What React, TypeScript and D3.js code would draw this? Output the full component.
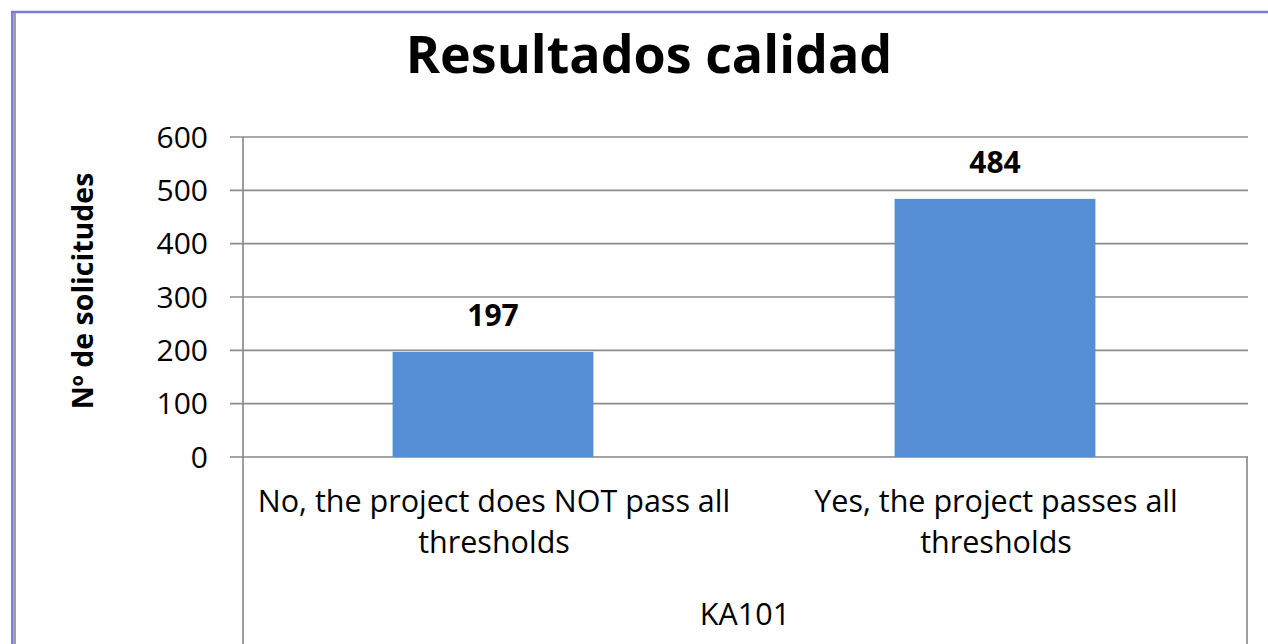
import React from "react";
import * as d3 from "d3";

const title = "Resultados calidad";
const yAxisTitle = "Nº de solicitudes";
const groupLabel = "KA101";
const categories = ["No, the project does NOT pass all thresholds", "Yes, the project passes all thresholds"];
const categoryLines = [["No, the project does NOT pass all", "thresholds"], ["Yes, the project passes all", "thresholds"]];
const values = [197, 484];
const yTicks = [0, 100, 200, 300, 400, 500, 600];

const W = 1268;
const H = 644;
const FONT = "'Open Sans', sans-serif";

export default function App() {
  const plotLeft = 243;
  const plotRight = 1247;
  const plotTop = 137;
  const plotBottom = 457;
  const y = d3.scaleLinear().domain([0, 600]).range([plotBottom, plotTop]);
  const x = d3.scaleBand<string>().domain(categories).range([plotLeft, plotRight]).padding(0);
  const barW = x.bandwidth() * 0.4;
  const grid = "#8c8c8c";
  const axis = "#868686";
  return (
    <svg width={W} height={H} style={{ position: "absolute", left: 0, top: 0, display: "block", background: "#fff" }}>
      {/* outer border */}
      <line x1={11} x2={W} y1={12} y2={12} stroke="#7b7bd9" strokeWidth={2.5} />
      <line x1={12.3} x2={12.3} y1={11} y2={H} stroke="#7b7bd9" strokeWidth={2.5} />
      <line x1={14.7} x2={14.7} y1={13} y2={H} stroke="#9a9a9a" strokeWidth={2.5} />

      <text x={649} y={73} textAnchor="middle" fontFamily={FONT} fontWeight={700} fontSize={52} fill="#000">
        {title}
      </text>

      {/* gridlines */}
      {yTicks.map((t) => (
        <line key={t} x1={230} x2={plotRight + 1} y1={y(t)} y2={y(t)} stroke={t === 0 ? axis : grid} strokeWidth={1.6} />
      ))}
      {yTicks.map((t) => (
        <text key={"l" + t} x={208} y={y(t) + 10.5} textAnchor="end" fontFamily={FONT} fontSize={30} fill="#000">
          {t}
        </text>
      ))}

      {/* bars */}
      {categories.map((c, i) => (
        <rect
          key={c}
          x={(x(c) as number) + x.bandwidth() / 2 - barW / 2 - 1}
          y={y(values[i])}
          width={barW}
          height={y(0) - y(values[i])}
          fill="#558ed5"
        />
      ))}
      {categories.map((c, i) => (
        <text
          key={"v" + c}
          x={(x(c) as number) + x.bandwidth() / 2 - 1}
          y={y(values[i]) - 26}
          textAnchor="middle"
          fontFamily={FONT}
          fontWeight={700}
          fontSize={30}
          fill="#000"
        >
          {values[i]}
        </text>
      ))}

      {/* axes */}
      <line x1={plotLeft} x2={plotLeft} y1={plotTop} y2={H} stroke={axis} strokeWidth={1.6} />
      <line x1={plotRight} x2={plotRight} y1={plotBottom} y2={H} stroke={axis} strokeWidth={1.6} />

      {categories.map((c, i) => (
        <text key={"c" + c} textAnchor="middle" fontFamily={FONT} fontSize={30.5} fill="#000">
          {categoryLines[i].map((ln, j) => (
            <tspan key={j} x={(x(c) as number) + x.bandwidth() / 2} y={512 + j * 41}>
              {ln}
            </tspan>
          ))}
        </text>
      ))}
      <text x={(plotLeft + plotRight) / 2} y={625} textAnchor="middle" fontFamily={FONT} fontSize={30.5} fill="#000">
        {groupLabel}
      </text>

      <text
        transform={`translate(93, 291) rotate(-90)`}
        textAnchor="middle"
        fontFamily={FONT}
        fontWeight={700}
        fontSize={28.5}
        fill="#000"
      >
        {yAxisTitle}
      </text>
    </svg>
  );
}
